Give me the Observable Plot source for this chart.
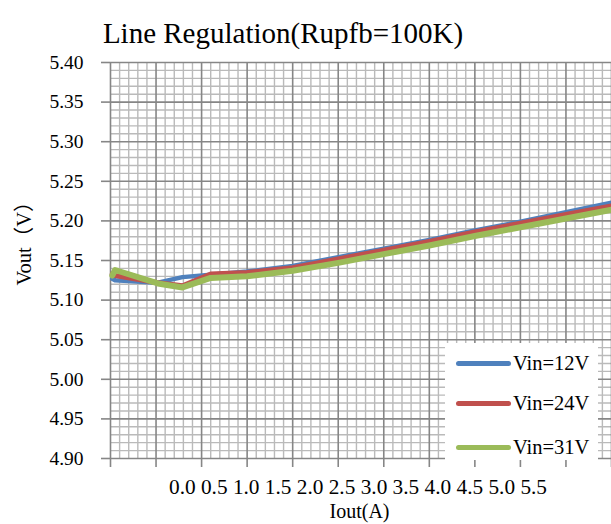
<!DOCTYPE html>
<html>
<head>
<meta charset="utf-8">
<script src="https://cdn.jsdelivr.net/npm/d3@7"></script>
<script src="https://cdn.jsdelivr.net/npm/@observablehq/plot@0.6"></script>
<style>
  html, body { margin: 0; padding: 0; background: #fff; }
  #wrap { position: relative; width: 611px; height: 524px; overflow: hidden; font-family: "Liberation Serif", "Times New Roman", serif; }
  #wrap svg, #wrap svg text { font-family: "Liberation Serif", "Times New Roman", "Noto Sans CJK SC", serif !important; }
  #legend { position: absolute; left: 445px; top: 343px; width: 153px; height: 117px; background: #fff; }
  .lg { position: absolute; left: 0; height: 24px; display: flex; align-items: center; }
  .lg .sw { width: 55px; height: 5px; border-radius: 3px; margin-left: 11px; }
  .lg span { font-size: 20.5px; color: #000; margin-left: 2px; line-height: 24px; font-family: "Liberation Serif", serif; }
</style>
</head>
<body>
<div id="wrap"></div>
<script>
// ---- data ----
const title = "Line Regulation(Rupfb=100K)";
const xTitle = "Iout(A)";
const yTitle = "Vout\uFF08V\uFF09";
const seriesNames = ["Vin=12V", "Vin=24V", "Vin=31V"];
const seriesColors = ["#4f81bd", "#c0504d", "#9bbb59"];
const seriesWidths = [4.5, 5, 6];
const iout = [0.02, 0.05, 0.52, 0.79, 1.1, 1.5, 2.0, 2.5, 3.0, 3.5, 4.0, 4.5, 5.0, 5.5];
const vin12 = [5.127, 5.125, 5.122, 5.129, 5.132, 5.136, 5.143, 5.154, 5.165, 5.176, 5.188, 5.199, 5.211, 5.223];
const vin24 = [5.133, 5.131, 5.122, 5.118, 5.133, 5.135, 5.141, 5.152, 5.163, 5.174, 5.186, 5.197, 5.208, 5.219];
const vin31 = [5.131, 5.138, 5.121, 5.116, 5.128, 5.130, 5.137, 5.147, 5.158, 5.169, 5.181, 5.192, 5.203, 5.214];
const xTickLabels = ["0.0","0.5","1.0","1.5","2.0","2.5","3.0","3.5","4.0","4.5","5.0","5.5"];
const xMajorTicks = [0, 0.5, 1, 1.5, 2, 2.5, 3, 3.5, 4, 4.5, 5, 5.5];
const yMajorTicks = [4.90, 4.95, 5.00, 5.05, 5.10, 5.15, 5.20, 5.25, 5.30, 5.35, 5.40];

// ---- build ----
const seriesValues = [vin12, vin24, vin31];
const rows = seriesValues.map((vals, s) => iout.map((x, i) => ({series: seriesNames[s], x, y: vals[i]})));
const xMinor = d3.range(0, 56).map(i => i / 10).filter(v => !xMajorTicks.some(t => Math.abs(t - v) < 1e-9));
const yMinor = d3.range(490, 541).map(i => i / 100).filter(v => !yMajorTicks.some(t => Math.abs(t - v) < 1e-9));

const serif = "Liberation Serif, Times New Roman, Noto Sans CJK SC, serif";
const majorC = "#868686", minorC = "#bababa";

const chart = Plot.plot({
  width: 611,
  height: 524,
  marginTop: 62,
  marginBottom: 66,
  marginLeft: 110,
  marginRight: 0,
  style: {fontFamily: serif, background: "#fff", overflow: "visible"},
  x: {domain: [0, 5.5], axis: null},
  y: {domain: [4.9, 5.4], axis: null},
  marks: [
    Plot.ruleX(xMinor, {stroke: minorC, strokeWidth: 1.4}),
    Plot.ruleY(yMinor, {stroke: minorC, strokeWidth: 1.4}),
    Plot.ruleX(xMajorTicks, {stroke: majorC, strokeWidth: 1.6}),
    Plot.ruleY(yMajorTicks, {stroke: majorC, strokeWidth: 1.6}),
    Plot.axisX({ticks: xMajorTicks, tickSize: 9, tickFormat: () => "", stroke: majorC, strokeWidth: 1.6, label: null}),
    Plot.axisY({ticks: yMajorTicks, tickSize: 9, tickFormat: () => "", stroke: majorC, strokeWidth: 1.6, label: null}),
    Plot.text(yMajorTicks, {frameAnchor: "left", y: d => d, text: d => d.toFixed(2), textAnchor: "end", dx: -27, fontSize: 19.5, fontFamily: serif, fill: "#000"}),
    ...rows.map((r, s) => Plot.line(r, {x: "x", y: "y", stroke: seriesColors[s], strokeWidth: seriesWidths[s], strokeLinejoin: "round", strokeLinecap: "round"})),
    Plot.text([title], {frameAnchor: "top-left", textAnchor: "middle", dx: 172.5, dy: -40, fontSize: 29, fontFamily: serif, fill: "#000"}),
    Plot.text([xTickLabels.join(" ")], {frameAnchor: "bottom", textAnchor: "middle", dx: -3, dy: 35, fontSize: 21.3, fontFamily: serif, fill: "#000"}),
    Plot.text([xTitle], {frameAnchor: "bottom", textAnchor: "middle", dx: -1.5, dy: 59, fontSize: 20, fontFamily: serif, fill: "#000"}),
    Plot.text([yTitle], {frameAnchor: "left", textAnchor: "middle", dx: -86, dy: -22, rotate: -90, fontSize: 20.5, fontFamily: serif, fill: "#000"})
  ]
});

const wrap = document.getElementById("wrap");
wrap.appendChild(chart);

// legend
const legend = document.createElement("div");
legend.id = "legend";
const legendTops = [8, 48, 92];
seriesNames.forEach((name, i) => {
  const row = document.createElement("div");
  row.className = "lg";
  row.style.top = legendTops[i] + "px";
  const sw = document.createElement("div");
  sw.className = "sw";
  sw.style.background = seriesColors[i];
  const t = document.createElement("span");
  t.textContent = name;
  row.appendChild(sw);
  row.appendChild(t);
  legend.appendChild(row);
});
wrap.appendChild(legend);
</script>
</body>
</html>
